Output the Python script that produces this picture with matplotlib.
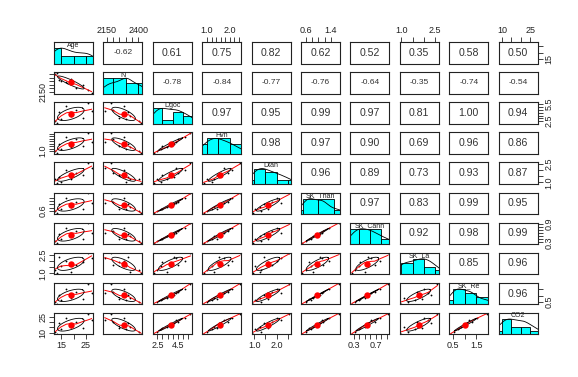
import numpy as np
import matplotlib
matplotlib.use('Agg')
import matplotlib.pyplot as plt

plt.rcParams['font.family'] = ['Liberation Sans', 'DejaVu Sans']

# ---------------- data ----------------
names = ['Age', 'N', 'Dgoc', 'Hvn', 'Dtan', 'SK_Than', 'SK_Cann', 'SK_La', 'SK_Re', 'CO2']

Age = [13.0, 14.8, 12.5, 19.0, 24.0, 14.0, 21.0, 27.5, 17.0, 26.0]
N = [2420, 2300, 2405, 2330, 2250, 2320, 2200, 2135, 2290, 2180]
Dgoc = [2.2, 2.9, 2.5, 3.4, 3.0, 4.1, 4.5, 4.3, 5.2, 5.7]
Hvn = [0.85, 1.2, 1.0, 1.3, 1.45, 1.55, 1.95, 1.75, 2.1, 2.45]
Dtan = [0.95, 1.05, 1.3, 1.25, 1.6, 1.45, 1.8, 2.2, 2.0, 2.55]
SK_Than = [0.48, 0.75, 0.6, 0.82, 0.7, 1.05, 1.15, 1.1, 1.35, 1.65]
SK_Cann = [0.27, 0.4, 0.33, 0.5, 0.42, 0.56, 0.68, 0.62, 0.78, 0.92]
SK_La = [1.0, 1.6, 1.3, 1.1, 1.9, 2.3, 1.7, 2.2, 2.0, 2.6]
SK_Re = [0.4, 0.7, 0.55, 0.85, 0.75, 1.1, 1.3, 1.2, 1.55, 1.95]
CO2 = [9, 13, 11, 15, 14, 19, 20, 22, 24, 28]

# correlation coefficients shown in the upper panels (row by row)
corr_rows = [
    ['-0.62', '0.61', '0.75', '0.82', '0.62', '0.52', '0.35', '0.58', '0.50'],
    ['-0.78', '-0.84', '-0.77', '-0.76', '-0.64', '-0.35', '-0.74', '-0.54'],
    ['0.97', '0.95', '0.99', '0.97', '0.81', '1.00', '0.94'],
    ['0.98', '0.97', '0.90', '0.69', '0.96', '0.86'],
    ['0.96', '0.89', '0.73', '0.93', '0.87'],
    ['0.97', '0.83', '0.99', '0.95'],
    ['0.92', '0.98', '0.99'],
    ['0.85', '0.96'],
    ['0.96'],
]

# tick positions per variable and the labels R managed to print
tick_vals = {
    'Age': [15, 20, 25],
    'N': [2150, 2200, 2250, 2300, 2350, 2400],
    'Dgoc': [2.5, 3.0, 3.5, 4.0, 4.5, 5.0, 5.5],
    'Hvn': [1.0, 1.2, 1.4, 1.6, 1.8, 2.0, 2.2, 2.4],
    'Dtan': [1.0, 1.5, 2.0, 2.5],
    'SK_Than': [0.6, 0.8, 1.0, 1.2, 1.4],
    'SK_Cann': [0.3, 0.4, 0.5, 0.6, 0.7, 0.8, 0.9],
    'SK_La': [1.0, 1.5, 2.0, 2.5],
    'SK_Re': [0.5, 1.0, 1.5],
    'CO2': [10, 15, 20, 25],
}
x_labels = {  # top (even cols) / bottom (odd cols)
    'Age': {15: '15', 25: '25'},
    'N': {2150: '2150', 2400: '2400'},
    'Dgoc': {2.5: '2.5', 4.5: '4.5'},
    'Hvn': {1.0: '1.0', 2.0: '2.0'},
    'Dtan': {1.0: '1.0', 2.0: '2.0'},
    'SK_Than': {0.6: '0.6', 1.4: '1.4'},
    'SK_Cann': {0.3: '0.3', 0.7: '0.7'},
    'SK_La': {1.0: '1.0', 2.5: '2.5'},
    'SK_Re': {0.5: '0.5', 1.5: '1.5'},
    'CO2': {10: '10', 25: '25'},
}
y_labels = {  # right (odd rows) / left (even rows)
    'Age': {15: '15'},
    'N': {2150: '2150'},
    'Dgoc': {2.5: '2.5', 5.5: '5.5'},
    'Hvn': {1.0: '1.0'},
    'Dtan': {1.0: '1.0', 2.5: '2.5'},
    'SK_Than': {0.6: '0.6'},
    'SK_Cann': {0.3: '0.3', 0.9: '0.9'},
    'SK_La': {1.0: '1.0', 2.5: '2.5'},
    'SK_Re': {0.5: '0.5'},
    'CO2': {10: '10', 25: '25'},
}

data = [np.array(v, dtype=float) for v in
        [Age, N, Dgoc, Hvn, Dtan, SK_Than, SK_Cann, SK_La, SK_Re, CO2]]
nv = len(names)


# ---------------- helpers ----------------
def lowess(x, y, f=2 / 3, iters=3):
    o = np.argsort(x)
    x = x[o]; y = y[o]
    n = len(x)
    r = int(np.ceil(f * n))
    h = np.array([np.sort(np.abs(x - x[i]))[r - 1] for i in range(n)])
    h[h == 0] = 1e-9
    w = np.clip(np.abs((x[:, None] - x[None, :]) / h[None, :]), 0, 1)
    w = (1 - w ** 3) ** 3
    delta = np.ones(n)
    yest = np.zeros(n)
    for _ in range(iters):
        for i in range(n):
            wt = delta * w[:, i]
            A = np.array([[wt.sum(), (wt * x).sum()], [(wt * x).sum(), (wt * x * x).sum()]])
            b = np.array([(wt * y).sum(), (wt * y * x).sum()])
            beta = np.linalg.lstsq(A, b, rcond=None)[0]
            yest[i] = beta[0] + beta[1] * x[i]
        res = y - yest
        s = np.median(np.abs(res))
        if s == 0:
            break
        d = np.clip(res / (6 * s), -1, 1)
        delta = (1 - d ** 2) ** 2
    return x, yest


def lims(v):
    lo, hi = v.min(), v.max()
    pad = 0.04 * (hi - lo)
    return lo - pad, hi + pad


def nice_step(rng, k=4):
    raw = rng / k
    p = 10 ** np.floor(np.log10(raw))
    for m in [1, 2, 5, 10]:
        if m * p >= raw:
            return m * p
    return 10 * p


def kde(v, grid):
    n = len(v)
    sd = v.std(ddof=1)
    iqr = np.subtract(*np.percentile(v, [75, 25]))
    bw = 0.9 * min(sd, iqr / 1.34 if iqr > 0 else sd) * n ** -0.2
    z = (grid[:, None] - v[None, :]) / bw
    return np.exp(-0.5 * z ** 2).sum(axis=1)


# ---------------- layout ----------------
W, H = 578, 377
fig = plt.figure(figsize=(W / 100, H / 100), dpi=100)
fig.patch.set_facecolor('white')
left0, pitch_x, pw = 54.0, 49.4, 39.0
top0, pitch_y, ph = 42.0, 30.1, 21.5

tick_fs = 6.5
frame_col = '#222222'

for i in range(nv):          # row
    for j in range(nv):      # column
        x0 = left0 + j * pitch_x
        y0 = top0 + i * pitch_y
        ax = fig.add_axes([x0 / W, 1 - (y0 + ph) / H, pw / W, ph / H])
        for s in ax.spines.values():
            s.set_linewidth(0.8)
            s.set_color(frame_col)
        xv = data[j]
        yv = data[i]
        ax.set_xlim(*lims(xv))
        if i == j:
            # diagonal: histogram (right-closed bins as in R) + density + name
            lo, hi = xv.min(), xv.max()
            st = nice_step(hi - lo)
            edges = np.arange(np.floor(lo / st) * st, hi + st, st)
            idx = np.clip(np.searchsorted(edges, xv, side='left') - 1, 0, len(edges) - 2)
            counts = np.bincount(idx, minlength=len(edges) - 1).astype(float)
            counts = counts / counts.max()
            ax.bar(edges[:-1], counts, width=np.diff(edges), align='edge',
                   color='#00FFFF', edgecolor='black', linewidth=0.6)
            g = np.linspace(lo - 0.3 * (hi - lo), hi + 0.3 * (hi - lo), 200)
            d = kde(xv, g)
            ax.plot(g, d / d.max(), color='black', lw=0.6)
            ax.set_ylim(0, 1.4)
            ax.text(0.5, 0.86, names[i], transform=ax.transAxes, ha='center',
                    va='center', fontsize=5, color='#222222')
        elif i > j:
            # lower: scatter, lowess, ellipse, mean
            ax.set_ylim(*lims(yv))
            ax.plot(xv, yv, 'o', ms=1.3, color='black', mec='none')
            lx, ly = lowess(xv, yv)
            ax.plot(lx, ly, color='red', lw=0.7)
            r = np.corrcoef(xv, yv)[0, 1]
            th = np.sign(r) / np.sqrt(2) if abs(r) > 0 else 1 / np.sqrt(2)
            ang = np.linspace(0, 2 * np.pi, 52)
            uc = np.column_stack([np.cos(ang), np.sin(ang)])
            shape = np.diag([np.sqrt(1 + r), np.sqrt(max(1 - r, 0))]) @ np.array([[th, th], [-th, th]])
            el = uc @ shape
            ax.plot(el[:, 0] * xv.std(ddof=1) + xv.mean(), el[:, 1] * yv.std(ddof=1) + yv.mean(),
                    color='black', lw=0.6)
            ax.plot([xv.mean()], [yv.mean()], 'o', ms=4.6, color='red', mec='none')
        else:
            ax.set_ylim(*lims(yv))
            txt = corr_rows[i][j - i - 1]
            fs = 6.0 if txt.startswith('-') else 7.6
            ax.text(0.5, 0.5, txt, transform=ax.transAxes, ha='center', va='center',
                    fontsize=fs, color='#333333')

        # ticks
        ax.tick_params(length=3.3, width=0.6, color=frame_col, labelsize=tick_fs,
                       pad=1.5, labelcolor='#222222')
        nm_x, nm_y = names[j], names[i]
        show_top = (i == 0 and j % 2 == 1)
        show_bot = (i == nv - 1 and j % 2 == 0)
        if show_top or show_bot:
            tv = tick_vals[nm_x]
            ax.set_xticks(tv)
            ax.set_xticklabels([x_labels[nm_x].get(t, '') for t in tv])
            if show_top:
                ax.xaxis.set_ticks_position('top')
            else:
                ax.xaxis.set_ticks_position('bottom')
        else:
            ax.set_xticks([])
        show_left = (j == 0 and i % 2 == 1)
        show_right = (j == nv - 1 and i % 2 == 0)
        if show_left or show_right:
            tv = tick_vals[nm_y]
            ax.set_yticks(tv)
            ax.set_yticklabels([y_labels[nm_y].get(t, '') for t in tv],
                               rotation=90, va='center')
            if show_right:
                ax.yaxis.set_ticks_position('right')
            else:
                ax.yaxis.set_ticks_position('left')
        else:
            ax.set_yticks([])

fig.savefig('out.png', dpi=100, facecolor='white')
